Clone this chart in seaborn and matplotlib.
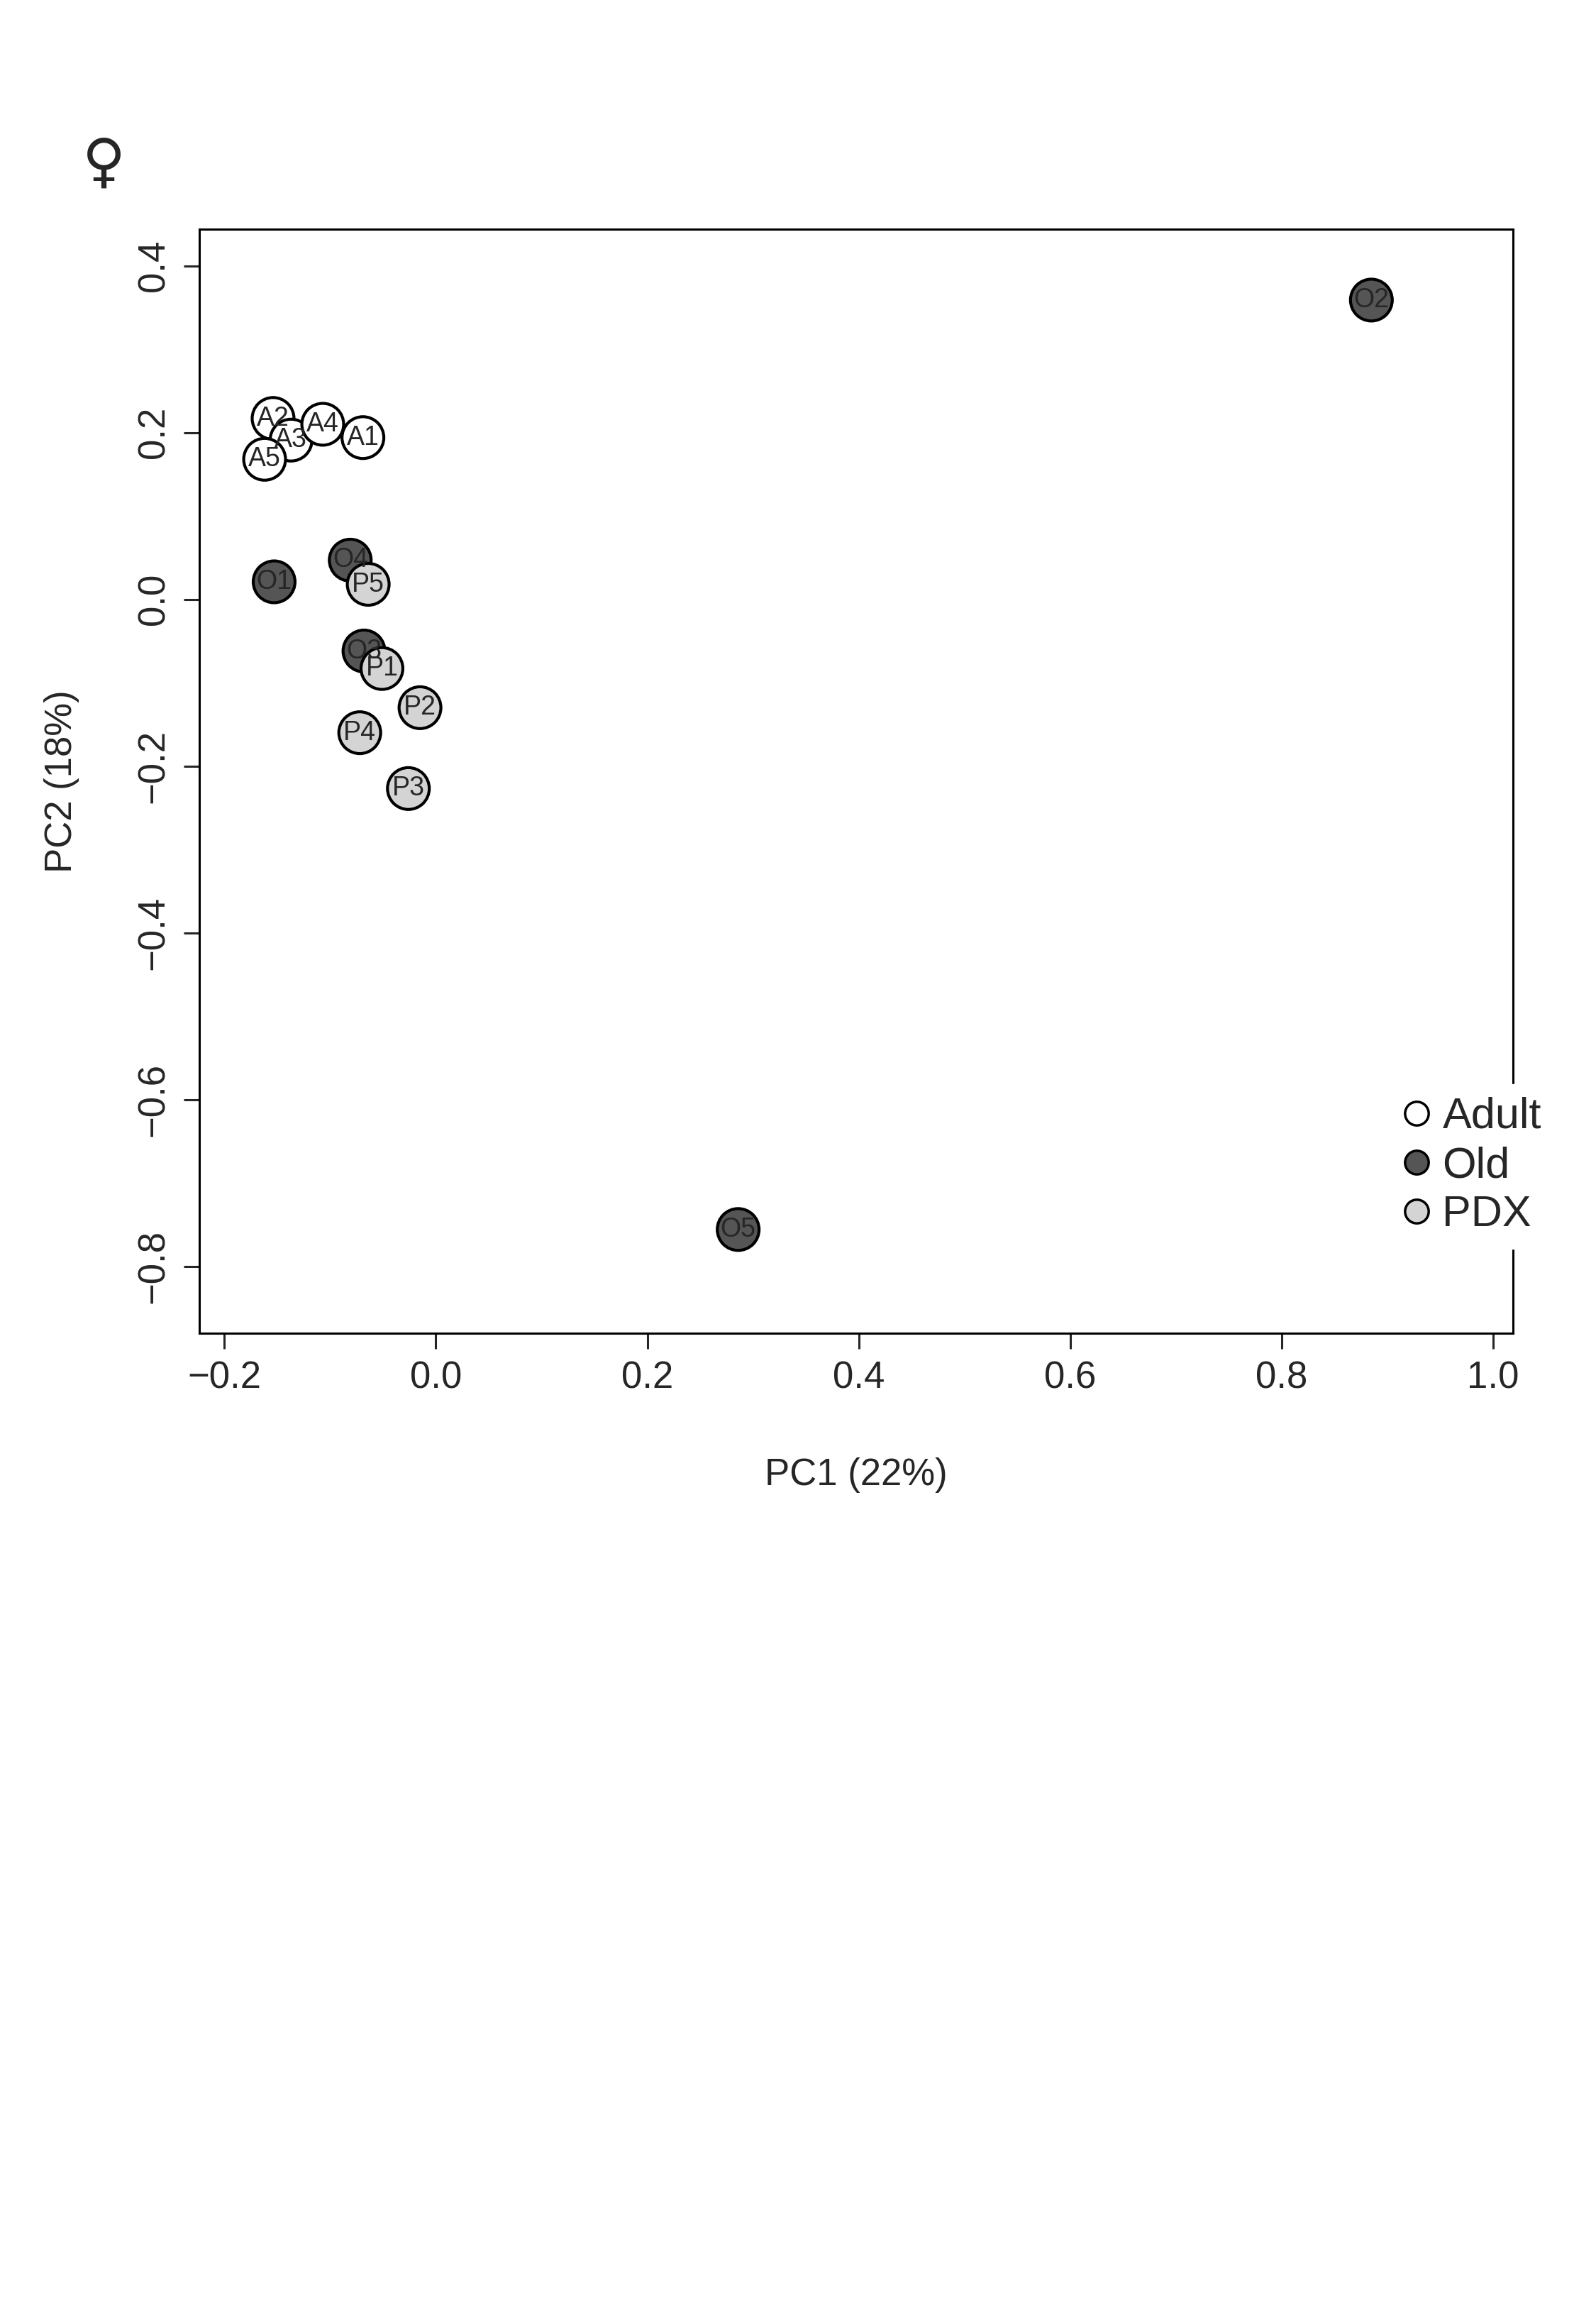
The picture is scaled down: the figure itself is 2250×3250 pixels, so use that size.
import pandas as pd
import matplotlib
matplotlib.use("Agg")
import matplotlib.pyplot as plt
import seaborn as sns

# PCA sample scores
labels = ['A1', 'A2', 'A3', 'A4', 'A5', 'O1', 'O2', 'O3', 'O4', 'O5',
          'P1', 'P2', 'P3', 'P4', 'P5']
groups = ['Adult'] * 5 + ['Old'] * 5 + ['PDX'] * 5
pc1 = [-0.069, -0.154, -0.137, -0.107, -0.162,
       -0.153, 0.885, -0.068, -0.081, 0.286,
       -0.051, -0.015, -0.026, -0.072, -0.064]
pc2 = [0.194, 0.217, 0.191, 0.210, 0.168,
       0.021, 0.359, -0.062, 0.047, -0.756,
       -0.083, -0.130, -0.227, -0.160, 0.018]
colors = {'Adult': '#ffffff', 'Old': '#555555', 'PDX': '#d4d4d4'}

df = pd.DataFrame({'label': labels, 'group': groups, 'PC1': pc1, 'PC2': pc2})

sns.set_style("white")
plt.rcParams['font.family'] = ['Liberation Sans', 'DejaVu Sans']

fig = plt.figure(figsize=(22.5, 32.5), dpi=100)
ax = fig.add_axes([0.125, 0.422, 0.823, 0.4786])

sns.scatterplot(data=df, x='PC1', y='PC2', hue='group', palette=colors,
                s=1800, edgecolor='black', linewidth=3, ax=ax, legend=False, zorder=3)
for _, r in df.iterrows():
    ax.text(r.PC1, r.PC2, r.label, ha='center', va='center', fontsize=27, zorder=4)

ax.set_xlim(-0.2236, 1.019)
ax.set_ylim(-0.880, 0.444)
ax.set_xticks([-0.2, 0.0, 0.2, 0.4, 0.6, 0.8, 1.0])
ax.set_yticks([-0.8, -0.6, -0.4, -0.2, 0.0, 0.2, 0.4])
ax.set_xticklabels(['\u22120.2', '0.0', '0.2', '0.4', '0.6', '0.8', '1.0'])
ax.set_yticklabels(['\u22120.8', '\u22120.6', '\u22120.4', '\u22120.2', '0.0', '0.2', '0.4'],
                   rotation=90, va='center')
ax.tick_params(direction='out', length=16, width=2.2, labelsize=38, pad=12,
               bottom=True, left=True)
for sp in ax.spines.values():
    sp.set_linewidth(2.2)
    sp.set_color('black')
ax.set_xlabel('PC1 (22%)', fontsize=38, labelpad=62)
ax.set_ylabel('PC2 (18%)', fontsize=38, labelpad=58)

handles = [plt.Line2D([], [], marker='o', linestyle='', markersize=24,
                      markerfacecolor=colors[g], markeredgecolor='black',
                      markeredgewidth=2.5, label=g) for g in colors]
leg = ax.legend(handles=handles, loc='center left', bbox_to_anchor=(0.9, 0.151),
                frameon=True, fontsize=44, handletextpad=0.1, borderpad=0.3,
                labelspacing=0.2, handlelength=1.0, borderaxespad=0)
leg.get_frame().set_edgecolor('white')
leg.get_frame().set_facecolor('white')
leg.get_frame().set_alpha(1)
leg.set_zorder(10)

fig.text(0.065, 0.929, '\u2640', fontsize=60, ha='center', va='center',
         family=['DejaVu Sans'])

fig.savefig('out.png', dpi=100, facecolor='white')
